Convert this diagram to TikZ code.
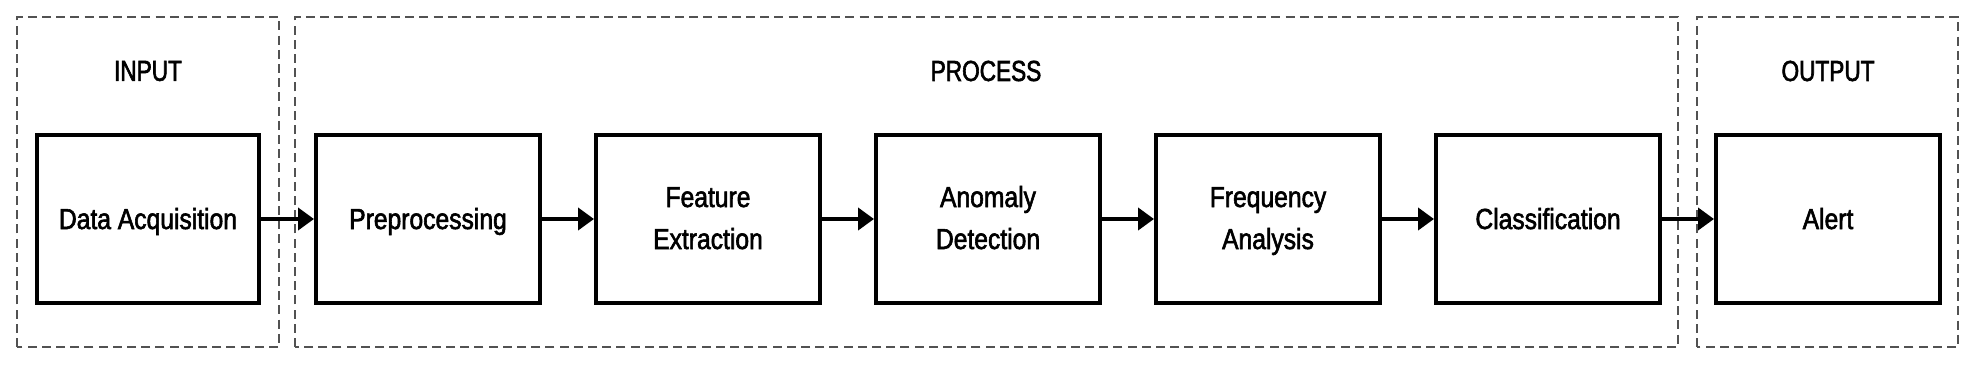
\documentclass[tikz,border=0pt]{standalone}
\usepackage{fontspec}
\setmainfont{Liberation Sans}[FakeStretch=0.85,FakeBold=2]
\newfontfamily\phasefont{Liberation Sans}[FakeStretch=0.78,FakeBold=2]
\usepackage{tikz}
\usetikzlibrary{arrows.meta,positioning}
\tikzset{
  stage/.style  ={rectangle,draw=black,line width=2pt,minimum width=112pt,
                  minimum height=84pt,inner sep=2pt,align=center,
                  font=\fontsize{14.5}{21}\selectfont,
                  text height=16pt,text depth=6pt},
  stagetwo/.style ={stage,text height=36pt},
  frame/.style  ={draw=black!68,line width=0.7pt,dash pattern=on 4.5pt off 2.6pt},
  phase/.style  ={font=\phasefont\fontsize{14.5}{17}\selectfont,inner sep=1pt},
  flow/.style   ={-{Triangle[length=8pt,width=11pt]},line width=2pt},
}

\begin{document}
\begin{tikzpicture}[x=0.5pt, y=0.5pt]
\useasboundingbox (0,0) rectangle (1974,365);

%% ---------------- phase frames ----------------
\draw[frame] (17,18)   rectangle (279,348);
\draw[frame] (295,18)  rectangle (1678,348);
\draw[frame] (1697,18) rectangle (1958,348);

\node[phase] (lin)   at (148,294)  {INPUT};
\node[phase] (lproc) at (986,294)  {PROCESS};
\node[phase] (lout)  at (1828,294) {OUTPUT};

%% ---------------- stages ----------------
\node[stage,minimum width=111pt] (acq) at (148,146) {Data Acquisition};
\node[stage]    (pre)  at (428,146)  {Preprocessing};
\node[stagetwo] (feat) at (708,146)  {Feature\\Extraction};
\node[stagetwo] (anom) at (988,146)  {Anomaly\\Detection};
\node[stagetwo] (freq) at (1268,146) {Frequency\\Analysis};
\node[stage]    (cls)  at (1548,146) {Classification};
\node[stage]    (alrt) at (1828,146) {Alert};

%% ---------------- connectors ----------------
\foreach \u/\v in {acq/pre, pre/feat, feat/anom, anom/freq, freq/cls, cls/alrt}{
  \draw[flow] (\u) -- (\v);
}

\end{tikzpicture}
\end{document}
